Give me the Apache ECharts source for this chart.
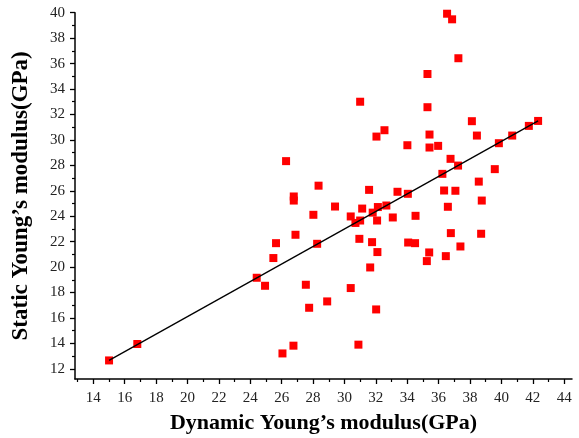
<!DOCTYPE html>
<html>
<head>
<meta charset="utf-8">
<script src="https://cdn.jsdelivr.net/npm/echarts@6/dist/echarts.min.js"></script>
<style>
html,body{margin:0;padding:0;background:#fff;}
#chart{width:579px;height:438px;}
</style>
</head>
<body>
<div id="chart"></div>
<script>
// Dynamic Young's modulus (GPa)
var dynX = [15.0, 16.8, 24.41, 24.94, 25.47, 25.64, 26.05, 26.28, 26.75, 26.77, 26.77, 26.88, 27.54, 27.75, 28.02, 28.26, 28.35, 28.9, 29.4, 30.4, 30.4, 30.7, 31.0, 30.89, 30.95, 31.0, 31.13, 31.57, 31.64, 31.76, 31.8, 32.02, 32.04, 32.08, 32.1, 32.13, 32.55, 32.67, 33.08, 33.38, 34.01, 34.04, 34.06, 34.5, 34.53, 35.25, 35.29, 35.29, 35.4, 35.42, 35.42, 35.97, 36.24, 36.35, 36.46, 36.54, 36.59, 36.76, 36.78, 36.86, 37.07, 37.24, 37.26, 37.39, 38.12, 38.44, 38.56, 38.71, 38.75, 39.58, 39.84, 40.69, 41.75, 42.34];
// Static Young's modulus (GPa)
var staticY = [12.66, 13.95, 19.16, 18.53, 20.71, 21.88, 13.21, 28.33, 13.82, 25.55, 25.23, 22.54, 18.61, 16.8, 24.11, 21.83, 26.4, 17.3, 24.76, 18.35, 23.98, 23.47, 23.66, 13.9, 22.22, 33.0, 24.6, 26.07, 19.97, 21.96, 24.28, 16.67, 30.26, 23.66, 21.18, 24.72, 30.76, 24.84, 23.9, 25.92, 29.58, 25.76, 21.93, 21.88, 24.03, 20.47, 35.18, 32.57, 21.15, 30.42, 29.4, 29.53, 27.33, 26.02, 20.86, 39.92, 24.74, 28.51, 22.67, 39.48, 26.0, 27.98, 36.42, 21.62, 31.47, 30.34, 26.72, 22.62, 25.23, 27.7, 29.74, 30.34, 31.1, 31.49];
// Fitted line end points
var fitX = [15.0, 42.34];
var fitY = [12.66, 31.49];
// Tick values
var xTicks = [14, 16, 18, 20, 22, 24, 26, 28, 30, 32, 34, 36, 38, 40, 42, 44];
var xMinor = [13, 15, 17, 19, 21, 23, 25, 27, 29, 31, 33, 35, 37, 39, 41, 43];
var yTicks = [12, 14, 16, 18, 20, 22, 24, 26, 28, 30, 32, 34, 36, 38, 40];
var yMinor = [13, 15, 17, 19, 21, 23, 25, 27, 29, 31, 33, 35, 37, 39];

var xMin = 12.83, xMax = 44.5, yMin = 11.2, yMax = 40;

var scatterData = dynX.map(function (x, i) { return [x, staticY[i]]; });
var lineData = fitX.map(function (x, i) { return [x, fitY[i]]; });

var labelFont = {fontFamily: 'Liberation Serif', fontSize: 15, color: '#222'};
var nameFontX = {fontFamily: 'Liberation Serif', fontSize: 22, fontWeight: 'bold', color: '#000'};
var nameFontY = {fontFamily: 'Liberation Serif', fontSize: 23, fontWeight: 'bold', color: '#000'};

var chart = echarts.init(document.getElementById('chart'), null, {renderer: 'canvas'});
chart.setOption({
  animation: false,
  backgroundColor: '#fff',
  grid: {left: 75, top: 12.7, right: 7, bottom: 59, containLabel: false, outerBoundsMode: 'none'},
  xAxis: [{
    type: 'value', min: xMin, max: xMax,
    name: 'Dynamic Young\u2019s modulus(GPa)', nameLocation: 'middle', nameGap: 33,
    nameTextStyle: nameFontX,
    splitLine: {show: false},
    axisLine: {show: true, onZero: false, lineStyle: {color: '#000', width: 1.5}},
    axisTick: {show: true, inside: false, length: 5, customValues: xTicks, lineStyle: {color: '#000', width: 1.3}},
    axisLabel: {show: true, margin: 12, customValues: xTicks, fontFamily: labelFont.fontFamily, fontSize: labelFont.fontSize, color: labelFont.color}
  }, {
    type: 'value', min: xMin, max: xMax, position: 'bottom', offset: 0,
    splitLine: {show: false},
    axisLine: {show: false},
    axisTick: {show: true, inside: false, length: 3, customValues: xMinor, lineStyle: {color: '#000', width: 1.2}},
    axisLabel: {show: false}
  }],
  yAxis: [{
    type: 'value', min: yMin, max: yMax,
    name: 'Static Young\u2019s modulus(GPa)', nameLocation: 'middle', nameGap: 42, nameRotate: 90,
    nameTextStyle: nameFontY,
    splitLine: {show: false},
    axisLine: {show: true, onZero: false, lineStyle: {color: '#000', width: 1.5}},
    axisTick: {show: true, inside: false, length: 5, customValues: yTicks, lineStyle: {color: '#000', width: 1.3}},
    axisLabel: {show: true, margin: 10, customValues: yTicks, fontFamily: labelFont.fontFamily, fontSize: labelFont.fontSize, color: labelFont.color}
  }, {
    type: 'value', min: yMin, max: yMax, position: 'left', offset: 0,
    splitLine: {show: false},
    axisLine: {show: false},
    axisTick: {show: true, inside: false, length: 3, customValues: yMinor, lineStyle: {color: '#000', width: 1.2}},
    axisLabel: {show: false}
  }],
  series: [{
    type: 'scatter', xAxisIndex: 0, yAxisIndex: 0,
    data: scatterData, symbol: 'rect', symbolSize: 8,
    itemStyle: {color: '#ff0000', opacity: 1},
    clip: true, z: 2
  }, {
    type: 'line', xAxisIndex: 0, yAxisIndex: 0,
    data: lineData, showSymbol: false, symbol: 'none',
    lineStyle: {color: '#000', width: 1.3}, z: 3
  }]
});
</script>
</body>
</html>
